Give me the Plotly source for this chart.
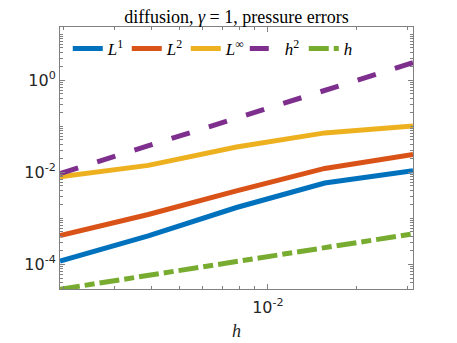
import numpy as np
import plotly.graph_objects as go

# mesh sizes
h_vals = [1/512, 1/256, 1/128, 1/64, 1/32]

# pressure errors
err_L1 = [1.17e-4, 4.1e-4, 1.7e-3, 5.8e-3, 1.07e-2]
err_L2 = [4.2e-4, 1.2e-3, 3.9e-3, 1.2e-2, 2.4e-2]
err_Linf = [7.9e-3, 1.4e-2, 3.5e-2, 7.1e-2, 1.0e-1]

# reference slopes
ref_h2 = [0.0093, 0.037, 0.149, 0.595, 2.38]
ref_h1 = [2.85e-5, 5.7e-5, 1.14e-4, 2.28e-4, 4.56e-4]

names = ['<i>L</i><sup>1</sup>', '<i>L</i><sup>2</sup>', '<i>L</i><sup>∞</sup>',
         '<i>h</i><sup>2</sup>', '<i>h</i>']
colors = ['#0072BD', '#D95319', '#EDB120', '#7E2F8E', '#77AC30']
dashes = ['solid', 'solid', 'solid', '19px,20px', '20px,5px,10px,5px']
series = [err_L1, err_L2, err_Linf, ref_h2, ref_h1]

fig = go.Figure()
for name, ys, col, dsh in zip(names, series, colors, dashes):
    fig.add_trace(go.Scatter(
        x=h_vals, y=ys, mode='lines', name=name,
        line=dict(color=col, width=5, dash=dsh)
    ))

# minor tick positions (log axes)
def minor_ticks(lo, hi):
    out = []
    for e in range(lo, hi + 1):
        for k in range(1, 10):
            out.append(k * 10.0 ** e)
    return out

axis_col = '#808080'
serif = 'Liberation Serif, DejaVu Serif, serif'
sans = 'DejaVu Sans, sans-serif'

# page body adds an 8px offset, margins compensate for it
fig.update_layout(
    width=457, height=343,
    margin=dict(l=52, r=52, t=19, b=62, autoexpand=False),
    plot_bgcolor='white', paper_bgcolor='white',
    title=dict(text='diffusion, <i>γ</i> = 1, pressure errors',
               x=(52 + 353 / 2) / 457, xref='container', xanchor='center',
               y=1 - 9 / 343, yanchor='middle',
               font=dict(family=serif, size=18, color='#000000')),
    legend=dict(orientation='h', x=0.022, y=0.985, xanchor='left', yanchor='top',
                bgcolor='rgba(0,0,0,0)', font=dict(family=serif, size=17, color='#000000'),
                entrywidth=14, entrywidthmode='pixels', itemwidth=30),
    xaxis=dict(
        type='log', range=[np.log10(1/512), np.log10(1/32)], automargin=False,
        tickmode='array', tickvals=[1e-2], ticktext=['10<sup>-2</sup>'],
        ticks='inside', ticklen=5, tickcolor=axis_col, mirror='allticks',
        ticklabelstandoff=4,
        showline=True, linecolor=axis_col, linewidth=1, showgrid=False, zeroline=False,
        minor=dict(tickmode='array', tickvals=minor_ticks(-3, -2), ticks='inside',
                   ticklen=3, tickcolor=axis_col, showgrid=False),
        tickfont=dict(family=sans, size=16, color='#262626'),
        title=dict(text='<i>h</i>', font=dict(family=serif, size=18, color='#262626'), standoff=8),
    ),
    yaxis=dict(
        type='log', range=[-4.54, 1.152], automargin=False,
        tickmode='array', tickvals=[1e-4, 1e-2, 1], ticktext=['10<sup>-4</sup>', '10<sup>-2</sup>', '10<sup>0</sup>'],
        ticks='inside', ticklen=5, tickcolor=axis_col, mirror='allticks',
        showline=True, linecolor=axis_col, linewidth=1, showgrid=False, zeroline=False,
        minor=dict(tickmode='array', tickvals=minor_ticks(-5, 1), ticks='inside',
                   ticklen=3, tickcolor=axis_col, showgrid=False),
        tickfont=dict(family=sans, size=16, color='#262626'),
    ),
)

fig.write_html("out.html")
